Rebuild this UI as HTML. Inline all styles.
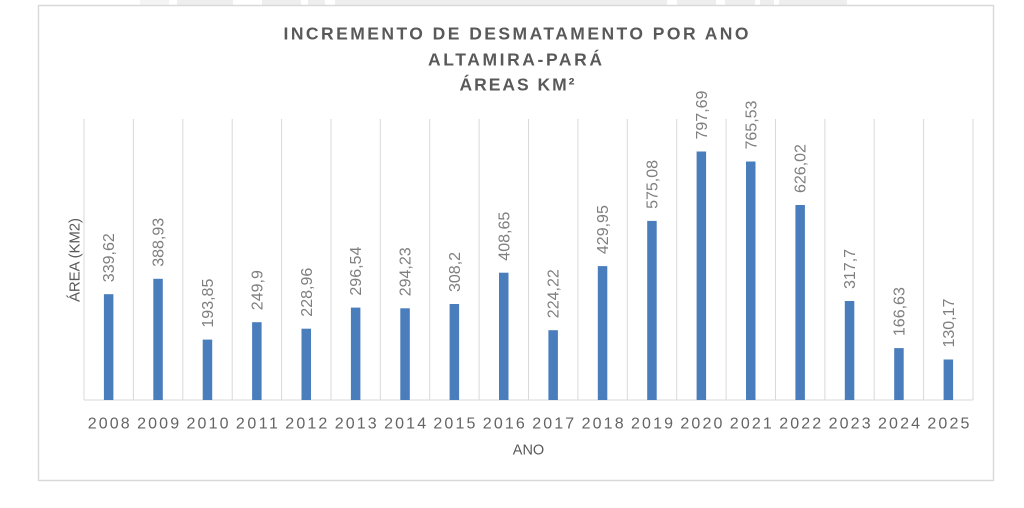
<!DOCTYPE html>
<html><head><meta charset="utf-8"><style>
html,body{margin:0;padding:0;background:#fff;width:1024px;height:508px;overflow:hidden}
svg{display:block}
text{font-family:"Liberation Sans",sans-serif}
</style></head><body>
<svg width="1024" height="508" viewBox="0 0 1024 508" xmlns="http://www.w3.org/2000/svg">
<rect width="1024" height="508" fill="#fff"/>
<g fill="#eeeeee">
<rect x="140" y="0" width="29" height="5" fill="#f4f4f4"/>
<rect x="177" y="0" width="56" height="5"/>
<rect x="262" y="0" width="39" height="5"/>
<rect x="308" y="0" width="17" height="5"/>
<rect x="335" y="0" width="332" height="5"/>
<rect x="677" y="0" width="39" height="5"/>
<rect x="725" y="0" width="30" height="5"/>
<rect x="760" y="0" width="14" height="5"/>
<rect x="779" y="0" width="68" height="5"/>
</g>
<rect x="38.5" y="5.5" width="955" height="475" fill="#fff" stroke="#d9d9d9" stroke-width="1.5"/>
<g font-weight="bold" fill="#595959" font-size="17.5" text-anchor="middle">
<text x="516" y="39.5" textLength="465" lengthAdjust="spacing">INCREMENTO DE DESMATAMENTO POR ANO</text>
<text x="515" y="65.5" textLength="174" lengthAdjust="spacing">ALTAMIRA-PARÁ</text>
<text x="517" y="90.5" textLength="115" lengthAdjust="spacing">ÁREAS KM²</text>
</g>
<g stroke="#d9d9d9" stroke-width="1">
<line x1="84" y1="119" x2="84" y2="400"/>
<line x1="133.4" y1="119" x2="133.4" y2="400"/>
<line x1="182.8" y1="119" x2="182.8" y2="400"/>
<line x1="232.2" y1="119" x2="232.2" y2="400"/>
<line x1="281.6" y1="119" x2="281.6" y2="400"/>
<line x1="331" y1="119" x2="331" y2="400"/>
<line x1="380.3" y1="119" x2="380.3" y2="400"/>
<line x1="429.7" y1="119" x2="429.7" y2="400"/>
<line x1="479.1" y1="119" x2="479.1" y2="400"/>
<line x1="528.5" y1="119" x2="528.5" y2="400"/>
<line x1="577.9" y1="119" x2="577.9" y2="400"/>
<line x1="627.3" y1="119" x2="627.3" y2="400"/>
<line x1="676.7" y1="119" x2="676.7" y2="400"/>
<line x1="726.1" y1="119" x2="726.1" y2="400"/>
<line x1="775.5" y1="119" x2="775.5" y2="400"/>
<line x1="824.9" y1="119" x2="824.9" y2="400"/>
<line x1="874.2" y1="119" x2="874.2" y2="400"/>
<line x1="923.6" y1="119" x2="923.6" y2="400"/>
<line x1="973" y1="119" x2="973" y2="400"/>
<line x1="84" y1="400" x2="973" y2="400"/>
</g>
<g fill="#4a7dbb">
<rect x="103.9" y="294.2" width="9.5" height="105.8"/>
<rect x="153.3" y="278.8" width="9.5" height="121.2"/>
<rect x="202.7" y="339.6" width="9.5" height="60.4"/>
<rect x="252.1" y="322.2" width="9.5" height="77.8"/>
<rect x="301.5" y="328.7" width="9.5" height="71.3"/>
<rect x="350.9" y="307.6" width="9.5" height="92.4"/>
<rect x="400.3" y="308.3" width="9.5" height="91.7"/>
<rect x="449.6" y="304.0" width="9.5" height="96.0"/>
<rect x="499.0" y="272.7" width="9.5" height="127.3"/>
<rect x="548.4" y="330.2" width="9.5" height="69.8"/>
<rect x="597.8" y="266.1" width="9.5" height="133.9"/>
<rect x="647.2" y="220.9" width="9.5" height="179.1"/>
<rect x="696.6" y="151.5" width="9.5" height="248.5"/>
<rect x="746.0" y="161.5" width="9.5" height="238.5"/>
<rect x="795.4" y="205.0" width="9.5" height="195.0"/>
<rect x="844.8" y="301.0" width="9.5" height="99.0"/>
<rect x="894.2" y="348.1" width="9.5" height="51.9"/>
<rect x="943.6" y="359.5" width="9.5" height="40.5"/>
</g>
<g fill="#7f7f7f" font-size="16">
<text transform="translate(114.2,282.2) rotate(-90)">339,62</text>
<text transform="translate(163.6,266.8) rotate(-90)">388,93</text>
<text transform="translate(213,327.6) rotate(-90)">193,85</text>
<text transform="translate(262.4,310.2) rotate(-90)">249,9</text>
<text transform="translate(311.8,316.7) rotate(-90)">228,96</text>
<text transform="translate(361.2,295.6) rotate(-90)">296,54</text>
<text transform="translate(410.6,296.3) rotate(-90)">294,23</text>
<text transform="translate(459.9,292) rotate(-90)">308,2</text>
<text transform="translate(509.3,260.7) rotate(-90)">408,65</text>
<text transform="translate(558.7,318.2) rotate(-90)">224,22</text>
<text transform="translate(608.1,254.1) rotate(-90)">429,95</text>
<text transform="translate(657.5,208.9) rotate(-90)">575,08</text>
<text transform="translate(706.9,139.5) rotate(-90)">797,69</text>
<text transform="translate(756.3,149.5) rotate(-90)">765,53</text>
<text transform="translate(805.7,193) rotate(-90)">626,02</text>
<text transform="translate(855.1,289) rotate(-90)">317,7</text>
<text transform="translate(904.5,336.1) rotate(-90)">166,63</text>
<text transform="translate(953.9,347.5) rotate(-90)">130,17</text>
</g>
<g fill="#646464" font-size="16" text-anchor="middle">
<text x="108.7" y="428.5" textLength="42" lengthAdjust="spacing">2008</text>
<text x="158.1" y="428.5" textLength="42" lengthAdjust="spacing">2009</text>
<text x="207.5" y="428.5" textLength="42" lengthAdjust="spacing">2010</text>
<text x="256.9" y="428.5" textLength="42" lengthAdjust="spacing">2011</text>
<text x="306.3" y="428.5" textLength="42" lengthAdjust="spacing">2012</text>
<text x="355.7" y="428.5" textLength="42" lengthAdjust="spacing">2013</text>
<text x="405.1" y="428.5" textLength="42" lengthAdjust="spacing">2014</text>
<text x="454.4" y="428.5" textLength="42" lengthAdjust="spacing">2015</text>
<text x="503.8" y="428.5" textLength="42" lengthAdjust="spacing">2016</text>
<text x="553.2" y="428.5" textLength="42" lengthAdjust="spacing">2017</text>
<text x="602.6" y="428.5" textLength="42" lengthAdjust="spacing">2018</text>
<text x="652" y="428.5" textLength="42" lengthAdjust="spacing">2019</text>
<text x="701.4" y="428.5" textLength="42" lengthAdjust="spacing">2020</text>
<text x="750.8" y="428.5" textLength="42" lengthAdjust="spacing">2021</text>
<text x="800.2" y="428.5" textLength="42" lengthAdjust="spacing">2022</text>
<text x="849.6" y="428.5" textLength="42" lengthAdjust="spacing">2023</text>
<text x="899" y="428.5" textLength="42" lengthAdjust="spacing">2024</text>
<text x="948.4" y="428.5" textLength="42" lengthAdjust="spacing">2025</text>
</g>
<text x="528.5" y="454.5" font-size="14.5" fill="#595959" text-anchor="middle">ANO</text>
<text transform="translate(79.5,260) rotate(-90)" font-size="15" fill="#595959" text-anchor="middle" textLength="84" lengthAdjust="spacing">ÁREA (KM2)</text>
</svg>
</body></html>
